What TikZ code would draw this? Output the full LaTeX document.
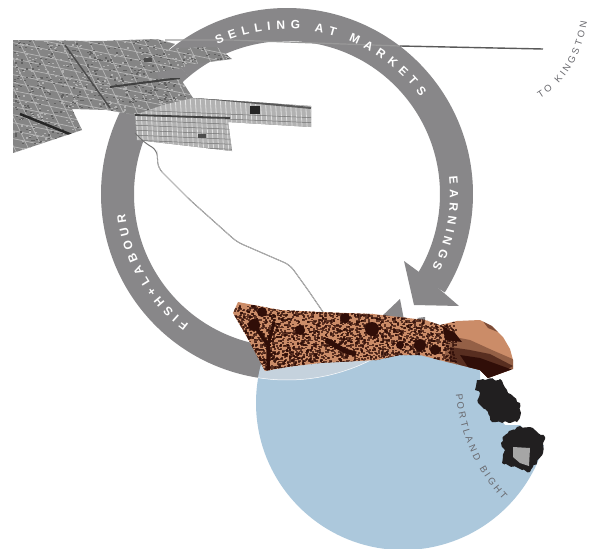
\documentclass[tikz,border=0pt]{standalone}
\usepackage{fontspec}
\setmainfont{Liberation Sans}
\usetikzlibrary{decorations.text, decorations.pathmorphing}
\definecolor{ringgrey}{RGB}{136, 135, 137}
\definecolor{seablue}{RGB}{172, 200, 220}
\definecolor{lensblue}{RGB}{197, 210, 221}
\definecolor{coastorange}{RGB}{203, 140, 104}
\definecolor{coastdark}{RGB}{48, 14, 8}
\definecolor{islandblack}{RGB}{33, 31, 32}
\definecolor{labelgrey}{RGB}{105, 105, 110}
\newcommand{\mapoutline}{(13,40) -- (100,41) -- (157,39) -- (175,44) -- (168,50) -- (180,48) -- (217,47) -- (232,59) -- (187,65) -- (182,68) -- (157,72) -- (158,78) -- (180,78) -- (193,98) -- (311,106) -- (311,127) -- (228,122) -- (232,151) -- (137,140) -- (135,115) -- (107,110) -- (72,109) -- (82,130) -- (13,153) -- cycle}
\newcommand{\stripoutline}{(135,115) -- (163,105) -- (193,98) -- (311,106) -- (311,127) -- (228,122) -- (232,151) -- (137,140) -- cycle}
\newcommand{\coastoutline}{(238,302) -- (233,313) -- (247,337) -- (265,371) -- (287,367) -- (320,363) -- (377,360) -- (400,355) -- (420,355) -- (447,362) -- (460,365) -- (480,370) -- (488,378) -- (513,369) -- (513,360) -- (510,349) -- (503,337) -- (492,326) -- (480,320) -- (457,321) -- (440,325) -- (425,320) -- (373,314) -- (320,312) -- (280,310) -- cycle}
\newcommand{\ringfont}{\color{white}\bfseries\fontsize{12}{12}\selectfont}
\newcommand{\smallfont}{\color{labelgrey}\fontsize{9.5}{9.5}\selectfont}

\begin{document}
\begin{tikzpicture}[
  x=1pt, y=-1pt,
  ringarc/.style={ringgrey, line width=33pt},
  ringhead/.style={fill=ringgrey, draw=none},
  ringlabel/.style={decorate, decoration={text along path, text align={fit to path}, text={|\ringfont|#1}}},
  smalllabel/.style={decorate, decoration={text along path, text align={fit to path}, text={|\smallfont|#1}}},
  street/.style={black!28, line width=0.7pt},
  island/.style={fill=islandblack, decorate, decoration={random steps, segment length=3pt, amplitude=1.2pt}},
]
\useasboundingbox (0,0) rectangle (590,549);
\pgfmathsetseed{42}

% Ring arrows
\draw[ringarc] (287,194) ++(-130:169.5) arc[start angle=-130, end angle=32, radius=169.5];
\draw[ringarc] (287,194) ++(-130:169.5) arc[start angle=-130, end angle=-300, radius=169.5];
\fill[ringhead] (404,261) -- (414,305) -- (459,306) -- (444,293) -- (419,272) -- cycle;
\fill[ringhead] (400,299) -- (380,318) -- (405,325) -- cycle;
\fill[ringhead] (417,318) -- (425,317) -- (425,322) -- cycle;

% Sea
\begin{scope}
  \clip (240,340) -- (480,340) -- (480,395) -- (505,425) -- (520,425) -- (540,445) -- (590,445) -- (590,549) -- (240,549) -- cycle;
  \clip (403,403) circle[radius=147];
  \fill[seablue] (240,340) rectangle (590,549);
  \draw[lensblue, line width=33pt] (287,194) ++(150:169.5) arc[start angle=150, end angle=40, radius=169.5];
  \draw[white, line width=0.5pt] (287,194) ++(130:186) arc[start angle=130, end angle=60, radius=186];
\end{scope}

% Town map
\begin{scope}
  \clip \mapoutline;
  \fill[black!48] (0,30) rectangle (320,160);
  \foreach \i in {0,...,27} {
    \draw[street] (\i*14-40,35) -- (\i*14+20,160);
    \draw[street] (0,\i*8-40) -- (320,\i*8+25);
  }
  \foreach \n in {1,...,1400} {
    \pgfmathsetmacro\px{13+rnd*240}
    \pgfmathsetmacro\py{38+rnd*115}
    \ifodd\n
      \fill[black!62] (\px,\py) rectangle ++(2,1.2);
    \else
      \fill[black!30] (\px,\py) rectangle ++(2,1.2);
    \fi
  }
  \begin{scope}
    \clip \stripoutline;
    \fill[black!30] (130,95) rectangle (320,155);
    \foreach \i in {0,...,36} {
      \draw[black!12, line width=0.8pt] (130+\i*5,95) -- (134+\i*5,155);
    }
    \foreach \i in {0,...,9} {
      \draw[black!55, line width=0.5pt] (130,110+\i*5) -- (320,118+\i*5);
    }
  \end{scope}
  \draw[black!65, line width=2pt] (193,97) -- (311,108);
  \draw[black!75, line width=1.8pt] (135,115) -- (230,118);
  \draw[black!85, line width=2.5pt] (20,114) -- (72,135);
  \draw[black!75, line width=2pt] (110,87) -- (180,78);
  \draw[black!70, line width=1.5pt] (65,45) -- (110,108);
  \fill[black!85] (250,106) rectangle (260,114);
  \fill[black!70] (144,58) rectangle (152,62);
  \fill[black!70] (198,134) rectangle (206,138);
\end{scope}

% Roads
\draw[black!55, line width=1pt, rounded corners=6pt] (135,133) -- (145,143) -- (157,150) -- (158,168) -- (190,200) -- (237,242) -- (290,265) -- (308,290) -- (323,312);
\draw[white!80!black, line width=0.4pt, rounded corners=6pt] (157,150) -- (158,168) -- (190,200) -- (237,242) -- (290,265) -- (308,290) -- (323,312);
\draw[black!40, line width=1.2pt] (165,40) -- (230,40) -- (400,46);
\draw[black!65, line width=1.4pt] (400,46) -- (543,49);

% Coast
\begin{scope}
  \clip \coastoutline;
  \fill[coastorange] (230,300) rectangle (520,380);
  \foreach \n in {1,...,3200} {
    \pgfmathsetmacro\px{233+rnd*222}
    \pgfmathsetmacro\py{305+rnd*65}
    \fill[coastdark, opacity=0.7] (\px,\py) rectangle ++(2.2,1.7);
  }
  \foreach \x/\y/\r in {254/325/6, 262/312/5, 300/330/5, 345/318/5, 372/329/7, 420/345/6, 435/350/5, 400/345/4} {
    \fill[coastdark] (\x,\y) circle[radius=\r];
  }
  \draw[coastdark, line width=3.5pt] (268,372) -- (268,345) -- (254,325);
  \draw[coastdark, line width=3pt] (268,345) -- (274,322);
  \draw[coastdark, line width=5pt] (326,340) -- (345,351) -- (356,354);
  \fill[coastdark] (443,327) -- (455,333) -- (462,342) -- (445,340) -- cycle;
  \fill[coastdark, opacity=0.35] (445,335) -- (470,340) -- (492,350) -- (515,360) -- (515,370) -- (488,382) -- (470,372) -- (445,362) -- cycle;
  \fill[coastdark, opacity=0.6] (450,347) -- (470,350) -- (490,354) -- (513,366) -- (488,380) -- (470,370) -- (450,360) -- cycle;
  \fill[coastdark] (460,355) -- (480,358) -- (513,370) -- (488,380) -- (470,370) -- cycle;
  \fill[coastdark, opacity=0.5] (482,320) -- (492,325) -- (498,332) -- (488,328) -- cycle;
\end{scope}

% Islands
\path[island] (477,380) -- (500,379) -- (508,393) -- (520,403) -- (521,413) -- (517,422) -- (492,422) -- (488,412) -- (478,403) -- (480,393) -- (475,390) -- cycle;
\path[island] (517,427) -- (530,427) -- (545,437) -- (543,453) -- (530,472) -- (518,468) -- (502,463) -- (505,450) -- (501,443) -- (505,435) -- cycle;
\fill[gray!70] (513,447) -- (530,448) -- (529,466) -- (520,463) -- (513,457) -- cycle;

% Labels
\path[ringlabel={SELLING AT MARKETS}] (287,194) ++(-115:165) arc[start angle=-115, end angle=-36, radius=165];
\path[ringlabel={EARNINGS}] (287,194) ++(-6:163) arc[start angle=-6, end angle=27, radius=163];
\path[ringlabel={FISH+LABOUR}] (287,194) ++(127:163) arc[start angle=127, end angle=173, radius=163];
\path[smalllabel={TO KINGSTON}] (540,98) .. controls (562,85) and (581,60) .. (587,22);
\path[smalllabel={PORTLAND BIGHT}] (456,394) .. controls (460,440) and (480,475) .. (503,500);
\end{tikzpicture}
\end{document}
